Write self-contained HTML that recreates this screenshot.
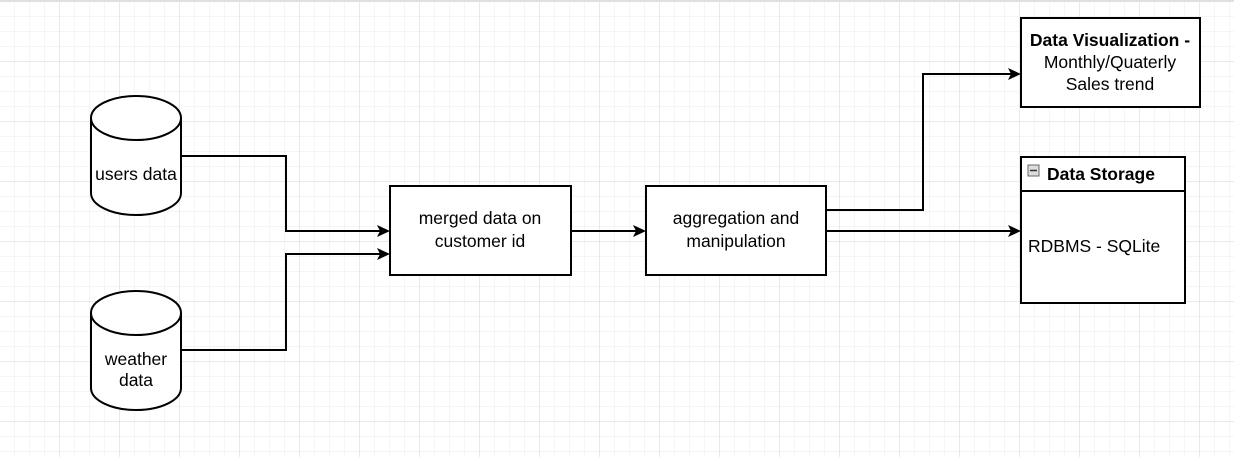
<!DOCTYPE html>
<html><head><meta charset="utf-8"><style>
body{margin:0;width:1234px;height:457px;overflow:hidden;background:#fff}
text{font-family:"Liberation Sans",Arial,sans-serif;font-size:17.5px;fill:#000}
</style></head><body>
<svg width="1234" height="457" xmlns="http://www.w3.org/2000/svg">
<defs>
<pattern id="minor" width="15" height="15" patternUnits="userSpaceOnUse" x="0" y="1.5">
<path d="M15 0V15M0 15H15" fill="none" stroke="#ebebeb" stroke-width="1"/></pattern>
<pattern id="major" width="60" height="60" patternUnits="userSpaceOnUse" x="0" y="1.5">
<path d="M60 0V60M0 60H60" fill="none" stroke="#d4d4d4" stroke-width="1"/></pattern>
</defs>
<rect width="1234" height="457" fill="url(#minor)"/>
<rect width="1234" height="457" fill="url(#major)"/>
<rect width="1234" height="2" fill="#e0e0e0"/>
<g fill="none" stroke="#000" stroke-width="2">
<path d="M181 156H286V231H384"/>
<path d="M181 350H286V254H384"/>
<path d="M571 231H640"/>
<path d="M826 210H923V74H1015"/>
<path d="M826 231H1015"/>
</g>
<g fill="#000">
<path d="M390 231L377 225L380 231L377 237Z"/>
<path d="M390 254L377 248L380 254L377 260Z"/>
<path d="M646 231L633 225L636 231L633 237Z"/>
<path d="M1021 74L1008 68L1011 74L1008 80Z"/>
<path d="M1021 231L1008 225L1011 231L1008 237Z"/>
</g>
<g fill="#fff" stroke="#000" stroke-width="2">
<path d="M91 118A45 22 0 0 1 181 118V193A45 22 0 0 1 91 193Z"/>
<path d="M91 118A45 22 0 0 0 181 118" fill="none"/>
<path d="M91 313A45 22 0 0 1 181 313V388A45 22 0 0 1 91 388Z"/>
<path d="M91 313A45 22 0 0 0 181 313" fill="none"/>
<rect x="390" y="186" width="181" height="89"/>
<rect x="646" y="186" width="180" height="89"/>
<rect x="1021" y="18" width="179" height="89"/>
<rect x="1021" y="157" width="164" height="146"/>
<path d="M1021 191H1185"/>
</g>
<rect x="1028" y="165" width="11" height="11" fill="#ddd" stroke="#666" stroke-width="1"/>
<path d="M1030 170.5H1037" stroke="#333" stroke-width="1.5"/>
<text x="136" y="180" text-anchor="middle">users data</text>
<text x="136" y="365" text-anchor="middle">weather</text>
<text x="136" y="386" text-anchor="middle">data</text>
<text x="480" y="224" text-anchor="middle">merged data on</text>
<text x="480" y="247" text-anchor="middle">customer id</text>
<text x="736" y="224" text-anchor="middle">aggregation and</text>
<text x="736" y="247" text-anchor="middle">manipulation</text>
<text x="1110" y="46" text-anchor="middle" font-weight="bold">Data Visualization -</text>
<text x="1110" y="68" text-anchor="middle">Monthly/Quaterly</text>
<text x="1110" y="90" text-anchor="middle">Sales trend</text>
<text x="1047" y="180" font-weight="bold">Data Storage</text>
<text x="1028" y="252">RDBMS - SQLite</text>
</svg>
</body></html>
